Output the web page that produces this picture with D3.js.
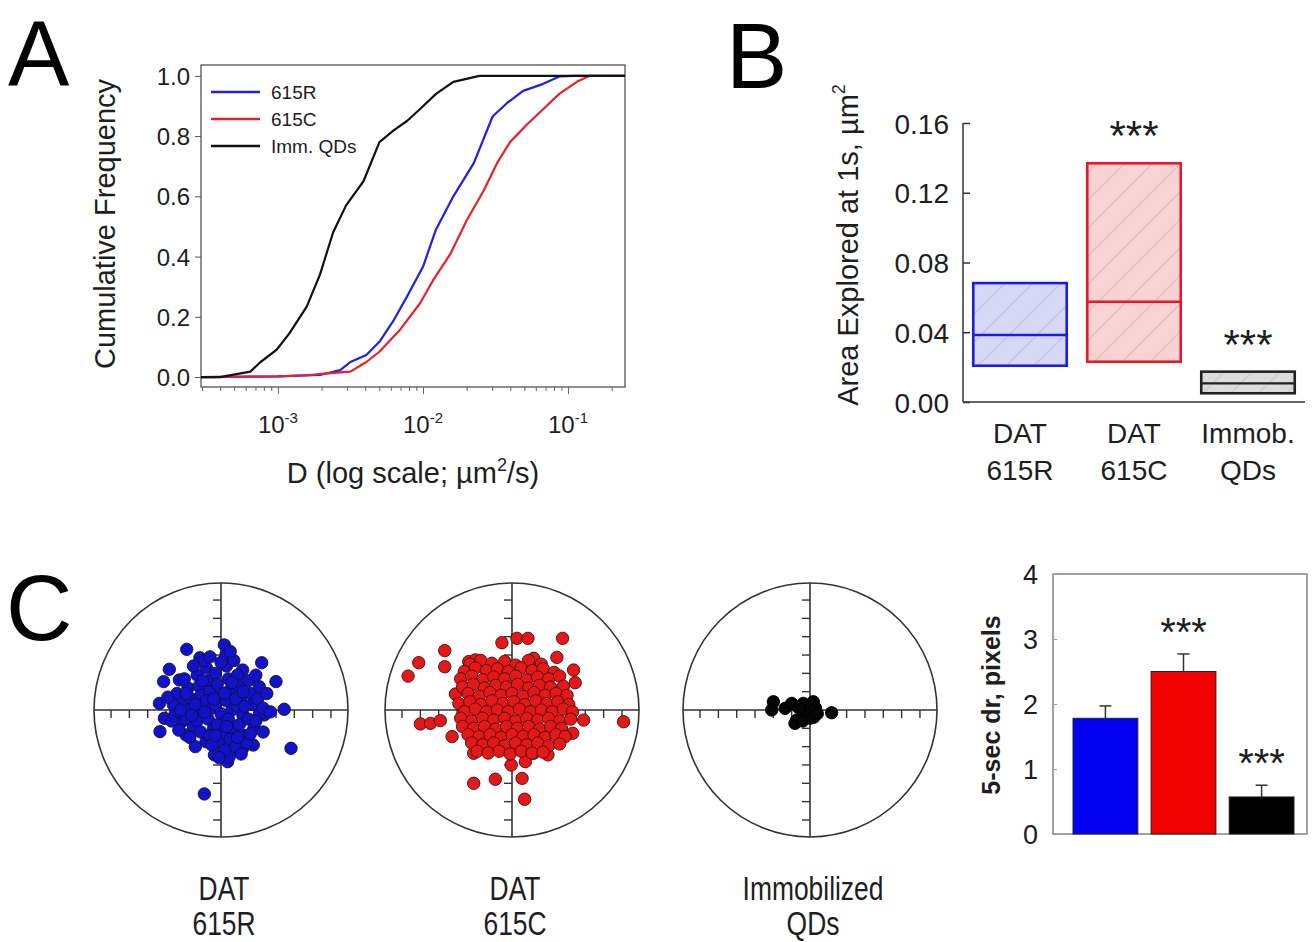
<!DOCTYPE html>
<html>
<head>
<meta charset="utf-8">
<script src="https://cdn.jsdelivr.net/npm/d3@7"></script>
<style>
body { margin: 0; background: #fff; }
text { font-family: "Liberation Sans", Arial, sans-serif; fill: #1e1e1e; }
</style>
</head>
<body>
<svg id="fig" width="1312" height="942"></svg>
<script>
// ---------- panel A : cumulative distributions of D ----------
const cumTicks = [0, 0.2, 0.4, 0.6, 0.8, 1.0];
const decades = [1e-3, 1e-2, 1e-1];
const decadeExp = ["-3", "-2", "-1"];
const legendNames = ["615R", "615C", "Imm. QDs"];
const curveColors = ["#2020e0", "#e8202a", "#111111"];
const cdf615R = [[2.95e-4,0],[1.0e-3,0.002],[1.95e-3,0.007],[2.69e-3,0.023],[3.16e-3,0.05],[4.07e-3,0.073],[5.01e-3,0.117],[6.31e-3,0.19],[7.76e-3,0.267],[1.0e-2,0.366],[1.23e-2,0.49],[1.62e-2,0.60],[2.24e-2,0.71],[3.02e-2,0.865],[3.80e-2,0.91],[4.90e-2,0.95],[6.46e-2,0.97],[8.71e-2,0.998],[0.110,1.0],[0.247,1.0]];
const cdf615C = [[2.95e-4,0],[1.0e-3,0.002],[1.6e-3,0.006],[2.19e-3,0.012],[3.16e-3,0.018],[4.07e-3,0.05],[5.01e-3,0.084],[6.92e-3,0.156],[9.55e-3,0.245],[1.17e-2,0.32],[1.55e-2,0.41],[2.0e-2,0.52],[2.63e-2,0.62],[3.24e-2,0.71],[3.98e-2,0.78],[5.25e-2,0.84],[6.76e-2,0.89],[8.71e-2,0.94],[0.115,0.98],[0.141,1.0],[0.247,1.0]];
const cdfImm = [[2.95e-4,0],[3.98e-4,0],[6.46e-4,0.018],[7.59e-4,0.05],[9.77e-4,0.09],[1.20e-3,0.145],[1.58e-3,0.234],[1.95e-3,0.34],[2.40e-3,0.48],[2.95e-3,0.57],[3.89e-3,0.65],[5.01e-3,0.78],[6.31e-3,0.82],[7.76e-3,0.85],[9.55e-3,0.89],[1.23e-2,0.94],[1.62e-2,0.98],[2.45e-2,1.0],[0.247,1.0]];

// ---------- panel B : area explored (box = quartiles, line = median) ----------
const areaGroups = [["DAT","615R"], ["DAT","615C"], ["Immob.","QDs"]];
const areaQ1 = [0.0208, 0.0231, 0.0050];
const areaMedian = [0.0384, 0.0575, 0.0107];
const areaQ3 = [0.0682, 0.1369, 0.0174];
const areaTicks = [0, 0.04, 0.08, 0.12, 0.16];
const areaStars = ["", "***", "***"];

// ---------- panel C : 5-s displacement scatter (tick units) ----------
const ptsR = [[-0.91,-4.58],[3.82,-2.09],[3.45,0.04],[3.0,1.55],[2.22,2.58],[-1.87,3.31],[0.18,3.55],[0.27,3.0],[-1.15,2.85],[-2.82,2.22],[-3.13,1.55],[-3.36,0.36],[-3.09,-0.45],[-3.33,-1.18],[-0.36,-2.45],[0.36,-2.82],[0.45,-2.55],[1.76,-1.91],[1.18,-2.09],[2.36,-0.27],[2.09,1.27],[1.18,2.18],[-1.91,-1.36],[-0.82,-1.73],[-2.27,1.64],
  [-2.4,0.9],[-2.1,0.4],[-2.5,-0.2],[-2.2,-0.7],[-1.8,1.2],[-1.6,0.6],[-1.7,0.0],[-1.9,-0.5],[-1.5,-0.9],[-1.3,1.9],[-1.2,1.3],[-1.1,0.8],[-1.2,0.2],[-1.0,-0.3],[-1.3,-0.6],[-1.1,-1.2],[-0.8,2.3],[-0.7,1.6],[-0.6,1.0],[-0.8,0.5],[-0.5,0.1],[-0.7,-0.5],[-0.4,-1.0],[-0.6,-1.4],[-0.3,2.0],[-0.2,1.4],[-0.1,0.7],[-0.3,0.3],[0.0,-0.2],[-0.2,-0.8],[0.1,-1.3],[-0.1,-1.8],[0.3,2.4],[0.4,1.7],[0.5,1.1],[0.3,0.5],[0.6,0.0],[0.4,-0.5],[0.7,-1.0],[0.5,-1.6],[0.9,1.9],[1.0,1.3],[1.1,0.7],[0.9,0.2],[1.2,-0.3],[1.0,-0.8],[1.3,-1.4],[0.8,-2.0],[1.5,1.6],[1.6,0.9],[1.7,0.3],[1.5,-0.5],[1.8,-1.0],[1.4,-1.8],[2.0,0.6],[2.1,-0.2],[1.9,-0.6],[2.3,0.1],[-2.0,1.7],[-1.5,2.4],[-0.9,2.7],[0.0,2.6],[0.7,2.7],[-2.6,0.3],[-2.3,-1.1],[-1.7,-1.5],[-1.4,0.3],[-0.9,-0.1],[-0.4,0.6],[0.2,0.9],[0.8,0.6],[1.3,0.2],[-0.5,-1.9],[0.2,-2.2],[-1.0,1.6],[0.6,1.5],[1.2,1.0],[-1.9,0.9],[-2.2,0.0],[-1.6,-0.3],[0.9,-1.5],[-0.3,-1.4],[0.3,-0.9],[1.6,-1.3],[-2.7,-0.6],[-2.9,0.7],[-0.6,2.9],[0.5,3.2],[1.9,1.9],[2.5,0.9],[2.7,-0.1],[-1.4,-2.0],[-0.1,-2.6],[1.1,-2.4],[2.3,-1.2]];
const ptsC = [[-5.67,1.85],[-5.09,2.58],[-3.67,3.24],[-3.67,2.36],[-3.09,0.87],[-5.0,-0.76],[-4.45,-0.73],[-3.91,-0.58],[6.09,-0.64],[3.91,-0.55],[2.76,3.91],[2.45,2.87],[3.36,2.18],[3.45,1.49],[-0.55,3.67],[0.27,3.91],[0.87,3.91],[-2.09,-4.0],[-0.91,-3.78],[0.55,-3.73],[0.69,-4.87],[-0.04,-3.0],[0.73,-2.82],[1.18,-2.36],[1.96,-2.45],[-2.09,-2.36],[-3.27,-1.45],[3.31,-1.27],[2.73,0.82],[-2.36,2.64],[-2.0,2.73],[1.18,2.82],
  [-2.3,2.5],[-1.7,2.7],[-1.1,2.55],[-0.4,2.65],[0.2,2.45],[0.9,2.7],[1.6,2.5],
  [-2.6,2.1],[-2.0,2.3],[-1.4,2.15],[-0.8,2.25],[-0.2,2.1],[0.5,2.3],[1.1,2.15],[1.7,2.25],[2.3,2.05],
  [-2.8,1.7],[-2.2,1.85],[-1.6,1.65],[-1.0,1.8],[-0.4,1.7],[0.2,1.85],[0.8,1.65],[1.4,1.8],[2.0,1.7],[2.6,1.85],
  [-2.7,1.25],[-2.1,1.4],[-1.5,1.2],[-0.9,1.35],[-0.3,1.25],[0.3,1.4],[0.9,1.2],[1.5,1.35],[2.1,1.25],[2.8,1.3],
  [-2.4,0.9],[-1.8,0.75],[-1.2,0.95],[-0.6,0.8],[0.0,0.9],[0.6,0.75],[1.2,0.95],[1.8,0.8],[2.4,0.9],[3.0,0.8],
  [-2.9,0.35],[-2.3,0.45],[-1.7,0.3],[-1.1,0.5],[-0.5,0.35],[0.1,0.45],[0.7,0.3],[1.3,0.5],[1.9,0.35],[2.5,0.45],[3.1,0.3],
  [-2.6,-0.1],[-2.0,0.05],[-1.4,-0.1],[-0.8,0.0],[-0.2,-0.1],[0.4,0.05],[1.0,-0.1],[1.6,0.0],[2.2,-0.1],[2.8,0.05],[3.3,-0.1],
  [-2.8,-0.45],[-2.2,-0.6],[-1.6,-0.45],[-1.0,-0.55],[-0.4,-0.45],[0.2,-0.6],[0.8,-0.45],[1.4,-0.55],[2.0,-0.45],[2.6,-0.6],[3.2,-0.5],
  [-2.7,-0.9],[-2.1,-1.0],[-1.5,-0.9],[-0.9,-1.05],[-0.3,-0.9],[0.3,-1.0],[0.9,-0.9],[1.5,-1.05],[2.1,-0.9],[2.7,-1.0],
  [-2.4,-1.35],[-1.8,-1.45],[-1.2,-1.35],[-0.6,-1.5],[0.0,-1.35],[0.6,-1.45],[1.2,-1.35],[1.8,-1.5],[2.4,-1.35],[2.9,-1.45],
  [-2.2,-1.8],[-1.6,-1.9],[-1.0,-1.8],[-0.4,-1.95],[0.2,-1.8],[0.8,-1.9],[1.4,-1.8],[2.0,-1.95],[2.6,-1.85],
  [-1.9,-2.25],[-1.3,-2.35],[-0.7,-2.25],[-0.1,-2.4],[0.5,-2.25],[1.1,-2.35],[1.7,-2.3]];
const ptsImm = [[-2.0,0.45],[-2.09,0.0],[-1.36,0.09],[-1.0,0.36],[-0.73,-0.55],[-0.82,-0.73],[-0.36,0.36],[-0.18,-0.18],[0.18,0.45],[0.27,-0.18],[0.0,-0.45],[-0.45,-0.45],[1.18,-0.15],[-0.2,0.2],[0.1,0.3],[0.3,0.1],[-0.1,-0.3],[0.2,-0.4],[-0.4,-0.6],[0.4,-0.2],[-0.6,0.1]];
const scatterSets = [ptsR, ptsC, ptsImm];
const scatterFill = ["#1212c8", "#e31818", "#050505"];
const scatterStroke = ["#101040", "#4a0a0a", "#000000"];
const scatterNames = [["DAT","615R"], ["DAT","615C"], ["Immobilized","QDs"]];
const gridTicks = [-6,-5,-4,-3,-2,-1,1,2,3,4,5,6];

// ---------- panel C : 5-sec dr bars ----------
const drMean = [1.78, 2.50, 0.57];
const drErr = [0.19, 0.27, 0.18];
const drStars = ["", "***", "***"];
const drTicks = [0, 1, 2, 3, 4];
const drColors = ["#0000f0", "#f00000", "#000000"];

const svg = d3.select("#fig");
svg.append("rect").attr("width", 1312).attr("height", 942).attr("fill", "#fff");
const defs = svg.append("defs");

function panelLetter(t, x, y) {
  svg.append("text").attr("x", x).attr("y", y).attr("font-size", 92).style("fill", "#000").text(t);
}

// ================= A =================
panelLetter("A", 8, 86);
const xA = d3.scaleLog().domain([2.95e-4, 0.247]).range([201, 625]);
const yA = d3.scaleLinear().domain([-0.033, 1.036]).range([387, 65]);
const gA = svg.append("g");

gA.append("rect")
  .attr("x", xA.range()[0]).attr("y", yA.range()[1])
  .attr("width", xA.range()[1] - xA.range()[0])
  .attr("height", yA.range()[0] - yA.range()[1])
  .attr("fill", "none").attr("stroke", "#555").attr("stroke-width", 1.3);

const yAxisA = gA.append("g").attr("transform", `translate(${xA.range()[0]},0)`)
  .call(d3.axisLeft(yA).tickValues(cumTicks).tickSize(6).tickPadding(5).tickFormat(d3.format(".1f")));
yAxisA.select(".domain").remove();
yAxisA.selectAll("line").attr("stroke", "#555");
yAxisA.selectAll("text").attr("font-size", 24).attr("font-family", null).attr("dy", "0.36em");

const minor = xA.ticks();
const xAxisA = gA.append("g").attr("transform", `translate(0,${yA.range()[0]})`)
  .call(d3.axisBottom(xA).tickValues(minor).tickSize(4).tickFormat(""));
xAxisA.select(".domain").remove();
xAxisA.selectAll("line").attr("stroke", "#666")
  .attr("y2", d => decades.some(v => Math.abs(v - d) / v < 1e-6) ? 7 : 4);

decades.forEach((d, i) => {
  const t = gA.append("text").attr("x", xA(d)).attr("y", 433).attr("text-anchor", "middle").attr("font-size", 24);
  t.append("tspan").text("10");
  t.append("tspan").attr("font-size", 15).attr("dy", -10).text(decadeExp[i]);
});
const xtA = gA.append("text").attr("x", 413).attr("y", 483).attr("text-anchor", "middle").attr("font-size", 29);
xtA.append("tspan").text("D (log scale; \u00b5m");
xtA.append("tspan").attr("font-size", 18).attr("dy", -12).text("2");
xtA.append("tspan").attr("dy", 12).text("/s)");

gA.append("text").attr("transform", "translate(115,224) rotate(-90)")
  .attr("text-anchor", "middle").attr("font-size", 29).text("Cumulative Frequency");

const lineA = d3.line().x(d => xA(d[0])).y(d => yA(d[1]));
[cdf615R, cdf615C, cdfImm].forEach((s, i) => {
  gA.append("path").datum(s).attr("d", lineA).attr("fill", "none")
    .attr("stroke", curveColors[i]).attr("stroke-width", 2.2).attr("stroke-linejoin", "round");
});

legendNames.forEach((n, i) => {
  const ly = 92 + i * 27;
  gA.append("line").attr("x1", 211).attr("x2", 260).attr("y1", ly).attr("y2", ly)
    .attr("stroke", curveColors[i]).attr("stroke-width", 2.6);
  gA.append("text").attr("x", 271).attr("y", ly + 7).attr("font-size", 19).text(n);
});

// ================= B =================
panelLetter("B", 726, 88);
const xB = d3.scaleBand().domain(d3.range(areaGroups.length)).range([963, 1305]).paddingInner(0.18).paddingOuter(0.09);
const yB = d3.scaleLinear().domain([0, 0.16]).range([402, 123]);
const gB = svg.append("g");

function hatch(id, bg, stroke) {
  const p = defs.append("pattern").attr("id", id).attr("patternUnits", "userSpaceOnUse")
    .attr("width", 28).attr("height", 28);
  p.append("rect").attr("width", 28).attr("height", 28).attr("fill", bg);
  p.append("path").attr("d", "M-7,7 L7,-7 M0,28 L28,0 M21,35 L35,21")
    .attr("stroke", stroke).attr("stroke-width", 1.6);
}
hatch("hb", "#d6d8f4", "#c6c8e8");
hatch("hr", "#f7d3d3", "#e9c0c0");
hatch("hk", "#dcdcdc", "#cfcfcf");
const boxFill = ["url(#hb)", "url(#hr)", "url(#hk)"];
const boxStroke = ["#1c1ce6", "#e8182a", "#222222"];

gB.append("line").attr("x1", 963).attr("x2", 963).attr("y1", yB(0.16)).attr("y2", yB(0)).attr("stroke", "#333").attr("stroke-width", 1.5);
gB.append("line").attr("x1", 963).attr("x2", xB.range()[1]).attr("y1", yB(0)).attr("y2", yB(0)).attr("stroke", "#333").attr("stroke-width", 1.5);

const yAxisB = gB.append("g").attr("transform", "translate(963,0)")
  .call(d3.axisLeft(yB).tickValues(areaTicks).tickSize(-7).tickPadding(14).tickFormat(d3.format(".2f")));
yAxisB.select(".domain").remove();
yAxisB.selectAll("line").attr("stroke", "#333").attr("stroke-width", 1.5);
yAxisB.selectAll("text").attr("font-size", 28).attr("font-family", null).attr("dy", "0.36em");

areaGroups.forEach((g, i) => {
  const x0 = xB(i), w = xB.bandwidth();
  gB.append("rect").attr("x", x0).attr("y", yB(areaQ3[i])).attr("width", w)
    .attr("height", yB(areaQ1[i]) - yB(areaQ3[i]))
    .attr("fill", boxFill[i]).attr("stroke", boxStroke[i]).attr("stroke-width", 2.6);
  gB.append("line").attr("x1", x0).attr("x2", x0 + w).attr("y1", yB(areaMedian[i])).attr("y2", yB(areaMedian[i]))
    .attr("stroke", boxStroke[i]).attr("stroke-width", 2.4);
  const cx = x0 + w / 2;
  gB.append("text").attr("x", cx).attr("y", 443).attr("text-anchor", "middle").attr("font-size", 28).text(g[0]);
  gB.append("text").attr("x", cx).attr("y", 480).attr("text-anchor", "middle").attr("font-size", 28).text(g[1]);
  if (areaStars[i]) {
    gB.append("text").attr("x", cx).attr("y", yB(areaQ3[i]) - 13).attr("text-anchor", "middle")
      .attr("font-size", 42).text(areaStars[i]);
  }
});

const ytB = gB.append("text").attr("transform", "translate(858,245) rotate(-90)")
  .attr("text-anchor", "middle").attr("font-size", 29);
ytB.append("tspan").text("Area Explored at 1s, \u00b5m");
ytB.append("tspan").attr("font-size", 18).attr("dy", -13).text("2");

// ================= C : scatter circles =================
panelLetter("C", 6, 640);
const circleX = [221, 512, 810];
const circleY = 710;
const rC = d3.scaleLinear().domain([-6.93, 6.93]).range([-127, 127]);
scatterSets.forEach((pts, k) => {
  const g = svg.append("g").attr("transform", `translate(${circleX[k]},${circleY})`);
  const R = rC(6.93);
  g.append("circle").attr("r", R).attr("fill", "none").attr("stroke", "#333").attr("stroke-width", 1.6);
  g.append("line").attr("x1", -R).attr("x2", R).attr("stroke", "#333").attr("stroke-width", 1.6);
  g.append("line").attr("y1", -R).attr("y2", R).attr("stroke", "#333").attr("stroke-width", 1.6);
  g.selectAll(".th").data(gridTicks).join("line").attr("class", "th")
    .attr("x1", d => rC(d)).attr("x2", d => rC(d)).attr("y1", 0).attr("y2", 8)
    .attr("stroke", "#333").attr("stroke-width", 1.4);
  g.selectAll(".tv").data(gridTicks).join("line").attr("class", "tv")
    .attr("y1", d => rC(d)).attr("y2", d => rC(d)).attr("x1", -8).attr("x2", 0)
    .attr("stroke", "#333").attr("stroke-width", 1.4);
  g.selectAll(".pt").data(pts).join("circle").attr("class", "pt")
    .attr("cx", d => rC(d[0])).attr("cy", d => -rC(d[1])).attr("r", 6.2)
    .attr("fill", scatterFill[k]).attr("stroke", scatterStroke[k]).attr("stroke-width", 0.9);
  scatterNames[k].forEach((s, j) => {
    svg.append("text").attr("transform", `translate(${circleX[k] + 3},${900 + j * 35}) scale(0.8,1)`)
      .attr("text-anchor", "middle").attr("font-size", 33).text(s);
  });
});

// ================= C : bar chart =================
const xD = d3.scaleBand().domain(d3.range(drMean.length)).range([1057, 1310]).paddingInner(0.17).paddingOuter(0.205);
const yD = d3.scaleLinear().domain([0, 4]).range([834, 574]);
const gD = svg.append("g");
gD.append("rect").attr("x", 1053).attr("y", yD(4)).attr("width", 1307 - 1053).attr("height", yD(0) - yD(4))
  .attr("fill", "none").attr("stroke", "#8a8a8a").attr("stroke-width", 1.6);

const yAxisD = gD.append("g").attr("transform", "translate(1053,0)")
  .call(d3.axisLeft(yD).tickValues(drTicks).tickSize(-4).tickPadding(15).tickFormat(d3.format("d")));
yAxisD.select(".domain").remove();
yAxisD.selectAll("line").attr("stroke", "#999");
yAxisD.selectAll("text").attr("font-size", 27).attr("font-family", null).attr("dy", "0.36em");

drMean.forEach((m, i) => {
  const x0 = xD(i), w = xD.bandwidth(), cx = x0 + w / 2;
  gD.append("line").attr("x1", cx).attr("x2", cx).attr("y1", yD(m)).attr("y2", yD(m + drErr[i]))
    .attr("stroke", "#333").attr("stroke-width", 1.5);
  gD.append("line").attr("x1", cx - 6).attr("x2", cx + 6).attr("y1", yD(m + drErr[i])).attr("y2", yD(m + drErr[i]))
    .attr("stroke", "#333").attr("stroke-width", 1.5);
  gD.append("rect").attr("x", x0).attr("y", yD(m)).attr("width", w).attr("height", yD(0) - yD(m))
    .attr("fill", drColors[i]).attr("stroke", "#222").attr("stroke-width", 1);
  if (drStars[i]) {
    gD.append("text").attr("x", cx).attr("y", yD(m + drErr[i]) - 8).attr("text-anchor", "middle")
      .attr("font-size", 40).text(drStars[i]);
  }
});

gD.append("text").attr("transform", "translate(1000,705) rotate(-90)")
  .attr("text-anchor", "middle").attr("font-size", 25).attr("font-weight", "bold").text("5-sec dr, pixels");
</script>
</body>
</html>
